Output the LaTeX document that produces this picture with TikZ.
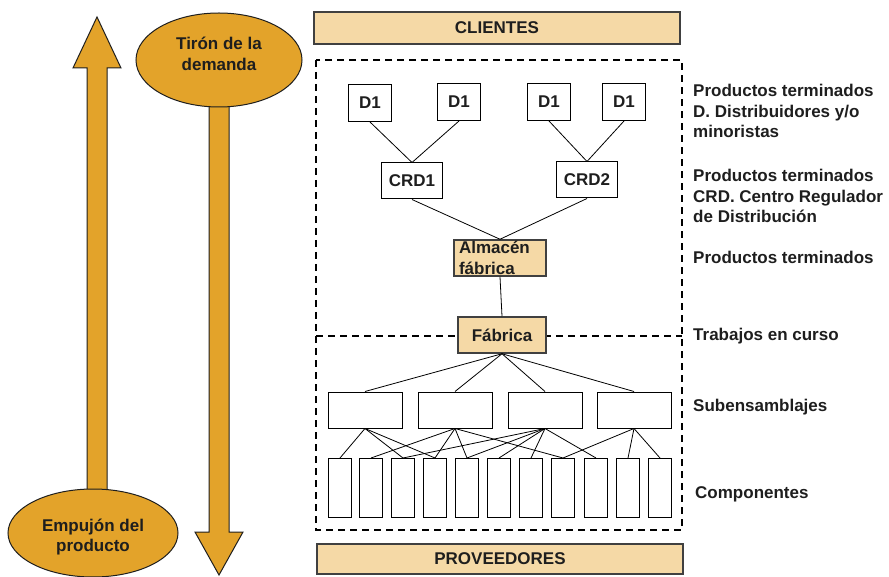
\documentclass[tikz,border=0pt]{standalone}
\usepackage{fontspec}
\setmainfont{Liberation Sans}
\usetikzlibrary{shapes.geometric}
\definecolor{oro}{RGB}{227,163,42}
\definecolor{crema}{RGB}{245,217,166}
\definecolor{tinta}{RGB}{30,30,30}

\begin{document}
\begin{tikzpicture}
[
    x=1pt, y=-1pt,
    font=\fontsize{17}{20.5}\selectfont\bfseries,
    text=tinta,
    caja/.style={draw=black, line width=1pt, fill=white, inner sep=0pt},
    cajab/.style={draw=tinta!85, line width=1.5pt, fill=crema, inner sep=0pt},
    dist/.style={caja, minimum width=43pt, minimum height=37pt},
    crd/.style={caja, minimum width=61pt, minimum height=36pt},
    sub/.style={caja, minimum width=74pt, minimum height=36pt},
    comp/.style={caja, minimum width=23pt, minimum height=59pt},
    globo/.style={ellipse, draw=tinta, line width=1pt, fill=oro, inner sep=0pt, align=center},
    flecha/.style={draw=tinta, line width=1pt, fill=oro},
    nota/.style={anchor=west, align=left, inner sep=0pt},
    corte/.style={dash pattern=on 7pt off 5pt, line width=1.2pt},
    enlace/.style={line width=0.8pt},
]
\useasboundingbox (0,0) rectangle (889,577);

\filldraw[flecha] (87,500) -- (87,68) -- (73,68) -- (97,17) -- (121,68) -- (107,68) -- (107,500) -- cycle;
\filldraw[flecha] (209,90) -- (209,532) -- (195,532) -- (219,575) -- (243,532) -- (229,532) -- (229,90) -- cycle;
\node[globo, minimum width=166pt, minimum height=94pt, text depth=12pt] (tiron) at (219,60) {Tirón de la\\demanda};
\node[globo, minimum width=170pt, minimum height=88pt, text height=41pt] (empujon) at (93,533) {Empujón del\\producto};

\node[cajab, minimum width=366pt, minimum height=32pt] (clientes) at (497,28) {CLIENTES};
\node[cajab, minimum width=366pt, minimum height=30pt] (proveedores) at (500,559) {PROVEEDORES};
\draw[corte] (316,60) rectangle (682,530);
\draw[corte] (316,336) -- (682,336);

\node[dist] (d1) at (370,103) {D1};
\node[dist] (d2) at (459,102) {D1};
\node[dist] (d3) at (549,102) {D1};
\node[dist] (d4) at (624,102) {D1};
\node[crd] (crd1) at (412,181) {CRD1};
\node[crd] (crd2) at (587,180) {CRD2};
\node[cajab, text width=82pt, inner xsep=5pt, align=left, minimum height=36pt] (almacen) at (500,258) {Almacén\\fábrica};
\node[cajab, minimum width=88pt, minimum height=36pt] (fabrica) at (502,335) {Fábrica};

\node[sub] (s1) at (365,410) {};
\node[sub] (s2) at (455,410) {};
\node[sub] (s3) at (545,410) {};
\node[sub] (s4) at (634,410) {};

\node[comp] (c1) at (340,488) {};
\node[comp] (c2) at (371,488) {};
\node[comp] (c3) at (403,488) {};
\node[comp] (c4) at (435,488) {};
\node[comp] (c5) at (467,488) {};
\node[comp] (c6) at (499,488) {};
\node[comp] (c7) at (531,488) {};
\node[comp] (c8) at (563,488) {};
\node[comp] (c9) at (596,488) {};
\node[comp] (c10) at (628,488) {};
\node[comp] (c11) at (660,488) {};

\draw[enlace] (d1.south) -- (crd1.north);
\draw[enlace] (d2.south) -- (crd1.north);
\draw[enlace] (d3.south) -- (crd2.north);
\draw[enlace] (d4.south) -- (crd2.north);
\draw[enlace] (crd1.south) -- (almacen.north);
\draw[enlace] (crd2.south) -- (almacen.north);
\draw[enlace] (almacen.south) -- (fabrica.north);
\draw[enlace] (fabrica.south) -- (s1.north);
\draw[enlace] (fabrica.south) -- (s2.north);
\draw[enlace] (fabrica.south) -- (s3.north);
\draw[enlace] (fabrica.south) -- (s4.north);

\draw[enlace] (s1.south) -- (c1.north);
\draw[enlace] (s1.south) -- (c3.north);
\draw[enlace] (s1.south) -- (c4.north);
\draw[enlace] (s2.south) -- (c2.north);
\draw[enlace] (s2.south) -- (c4.north);
\draw[enlace] (s2.south) -- (c5.north);
\draw[enlace] (s2.south) -- (c8.north);
\draw[enlace] (s3.south) -- (c3.north);
\draw[enlace] (s3.south) -- (c5.north);
\draw[enlace] (s3.south) -- (c6.north);
\draw[enlace] (s3.south) -- (c7.north);
\draw[enlace] (s3.south) -- (c9.north);
\draw[enlace] (s4.south) -- (c8.north);
\draw[enlace] (s4.south) -- (c10.north);
\draw[enlace] (s4.south) -- (c11.north);

\node[nota] (etqd) at (693,111) {Productos terminados\\D. Distribuidores y/o\\minoristas};
\node[nota] (etqcrd) at (693,196) {Productos terminados\\CRD. Centro Regulador\\de Distribución};
\node[nota] (etqalm) at (693,257) {Productos terminados};
\node[nota] (etqtrab) at (693,336) {Trabajos en curso};
\node[nota] (etqsub) at (693,407) {Subensamblajes};
\node[nota] (etqcomp) at (695,494) {Componentes};
\end{tikzpicture}
\end{document}
